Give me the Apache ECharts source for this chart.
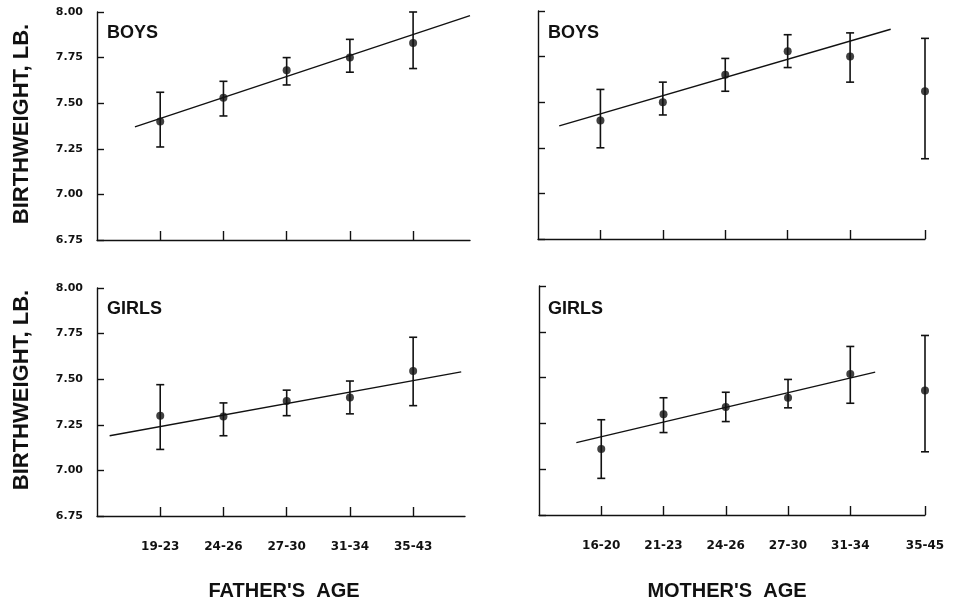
<!DOCTYPE html>
<html>
<head>
<meta charset="utf-8">
<script src="https://cdn.jsdelivr.net/npm/echarts@6/dist/echarts.min.js"></script>
<style>html,body{margin:0;padding:0;background:#fff;}#c{width:953px;height:607px;}</style>
</head>
<body>
<div id="c"></div>
<script>
// Category labels and their positions along the x axis
const fatherAges = ['19-23', '24-26', '27-30', '31-34', '35-43'];
const fatherPos = [1, 2, 3, 4, 5];
const motherAges = ['16-20', '21-23', '24-26', '27-30', '31-34', '35-45'];
const motherPos = [1, 2, 3, 4, 5, 6.2];
const yTicks = [6.75, 7.00, 7.25, 7.50, 7.75, 8.00];

// BOYS by father's age
const boysFatherMean = [7.40, 7.53, 7.68, 7.75, 7.83];
const boysFatherLow  = [7.26, 7.43, 7.60, 7.67, 7.69];
const boysFatherHigh = [7.56, 7.62, 7.75, 7.85, 8.00];
const boysFatherFit  = [[0.6, 7.37], [5.9, 7.98]];

// BOYS by mother's age
const boysMotherMean = [7.40, 7.50, 7.65, 7.78, 7.75, 7.56];
const boysMotherLow  = [7.25, 7.43, 7.56, 7.69, 7.61, 7.19];
const boysMotherHigh = [7.57, 7.61, 7.74, 7.87, 7.88, 7.85];
const boysMotherFit  = [[0.34, 7.37], [5.65, 7.90]];

// GIRLS by father's age
const girlsFatherMean = [7.30, 7.295, 7.38, 7.40, 7.545];
const girlsFatherLow  = [7.115, 7.19, 7.30, 7.31, 7.355];
const girlsFatherHigh = [7.47, 7.37, 7.44, 7.49, 7.73];
const girlsFatherFit  = [[0.2, 7.19], [5.76, 7.54]];

// GIRLS by mother's age
const girlsMotherMean = [7.11, 7.30, 7.34, 7.39, 7.52, 7.43];
const girlsMotherLow  = [6.95, 7.20, 7.26, 7.335, 7.36, 7.095];
const girlsMotherHigh = [7.27, 7.39, 7.42, 7.49, 7.67, 7.73];
const girlsMotherFit  = [[0.6, 7.145], [5.4, 7.53]];

const INK = '#111';

function renderErr(params, api) {
  const x = api.value(0), lo = api.value(1), hi = api.value(2);
  const p1 = api.coord([x, hi]);
  const p2 = api.coord([x, lo]);
  const w = 4;
  const st = {stroke: INK, lineWidth: 1.6};
  return {type: 'group', children: [
    {type: 'line', shape: {x1: p1[0], y1: p1[1], x2: p2[0], y2: p2[1]}, style: st},
    {type: 'line', shape: {x1: p1[0] - w, y1: p1[1], x2: p1[0] + w, y2: p1[1]}, style: st},
    {type: 'line', shape: {x1: p2[0] - w, y1: p2[1], x2: p2[0] + w, y2: p2[1]}, style: st}
  ]};
}

const panels = [
  {grid: {left: 97, top: 12, width: 373, height: 228}, pos: fatherPos, labels: fatherAges, max: 5.9,
   mean: boysFatherMean, low: boysFatherLow, high: boysFatherHigh, fit: boysFatherFit, yLabel: true, xLabel: false},
  {grid: {left: 538, top: 11, width: 387, height: 228}, pos: motherPos, labels: motherAges, max: 6.2,
   mean: boysMotherMean, low: boysMotherLow, high: boysMotherHigh, fit: boysMotherFit, yLabel: false, xLabel: false},
  {grid: {left: 97, top: 288, width: 368, height: 228}, pos: fatherPos, labels: fatherAges, max: 5.82,
   mean: girlsFatherMean, low: girlsFatherLow, high: girlsFatherHigh, fit: girlsFatherFit, yLabel: true, xLabel: true},
  {grid: {left: 539, top: 286, width: 386, height: 229}, pos: motherPos, labels: motherAges, max: 6.2,
   mean: girlsMotherMean, low: girlsMotherLow, high: girlsMotherHigh, fit: girlsMotherFit, yLabel: false, xLabel: true}
];

const grids = [], xAxes = [], yAxes = [], series = [];
panels.forEach((p, i) => {
  grids.push(p.grid);
  xAxes.push({
    type: 'value', gridIndex: i, min: 0, max: p.max,
    axisLine: {show: true, onZero: false, lineStyle: {color: INK, width: 1.4}},
    splitLine: {show: false},
    axisTick: {show: true, inside: true, length: 9, customValues: p.pos, lineStyle: {color: INK, width: 1.4}},
    axisLabel: {show: p.xLabel, customValues: p.pos, margin: 25,
      formatter: v => p.labels[p.pos.indexOf(v)] || '',
      color: INK, fontFamily: 'DejaVu Sans', fontWeight: 'bold', fontSize: 12}
  });
  yAxes.push({
    type: 'value', gridIndex: i, min: 6.75, max: 8.0, interval: 0.25,
    axisLine: {show: true, lineStyle: {color: INK, width: 1.4}},
    splitLine: {show: false},
    axisTick: {show: true, inside: true, length: 7, lineStyle: {color: INK, width: 1.4}},
    axisLabel: {show: p.yLabel, margin: 14, formatter: v => v.toFixed(2),
      color: INK, fontFamily: 'DejaVu Sans', fontWeight: 'bold', fontSize: 11}
  });
  series.push({
    type: 'line', xAxisIndex: i, yAxisIndex: i, data: p.fit, symbol: 'none',
    lineStyle: {color: INK, width: 1.4}, silent: true, animation: false
  });
  series.push({
    type: 'custom', xAxisIndex: i, yAxisIndex: i, renderItem: renderErr,
    encode: {x: 0, y: [1, 2]},
    data: p.pos.map((x, k) => [x, p.low[k], p.high[k]]), animation: false, silent: true
  });
  series.push({
    type: 'scatter', xAxisIndex: i, yAxisIndex: i, symbolSize: 8,
    itemStyle: {color: INK}, data: p.pos.map((x, k) => [x, p.mean[k]]), animation: false, silent: true
  });
});

const yNameFont = 'bold 22px "Liberation Sans", Arial, sans-serif';
const xNameFont = 'bold 20px "Liberation Sans", Arial, sans-serif';

const chart = echarts.init(document.getElementById('c'), null, {renderer: 'canvas'});
chart.setOption({
  backgroundColor: '#fff',
  animation: false,
  title: [
    {text: 'BOYS', left: 107, top: 24},
    {text: 'BOYS', left: 548, top: 24},
    {text: 'GIRLS', left: 107, top: 300},
    {text: 'GIRLS', left: 548, top: 300}
  ].map(t => Object.assign(t, {padding: 0, textStyle: {color: INK, fontFamily: 'Liberation Sans', fontWeight: 'bold', fontSize: 18}})),
  graphic: [
    {type: 'text', x: 22, y: 124, rotation: Math.PI / 2,
     style: {text: 'BIRTHWEIGHT, LB.', font: yNameFont, fill: INK, align: 'center', verticalAlign: 'middle'}},
    {type: 'text', x: 22, y: 390, rotation: Math.PI / 2,
     style: {text: 'BIRTHWEIGHT, LB.', font: yNameFont, fill: INK, align: 'center', verticalAlign: 'middle'}},
    {type: 'text', x: 284, y: 591,
     style: {text: "FATHER'S  AGE", font: xNameFont, fill: INK, align: 'center', verticalAlign: 'middle'}},
    {type: 'text', x: 727, y: 591,
     style: {text: "MOTHER'S  AGE", font: xNameFont, fill: INK, align: 'center', verticalAlign: 'middle'}}
  ],
  grid: grids,
  xAxis: xAxes,
  yAxis: yAxes,
  series: series
});
</script>
</body>
</html>
